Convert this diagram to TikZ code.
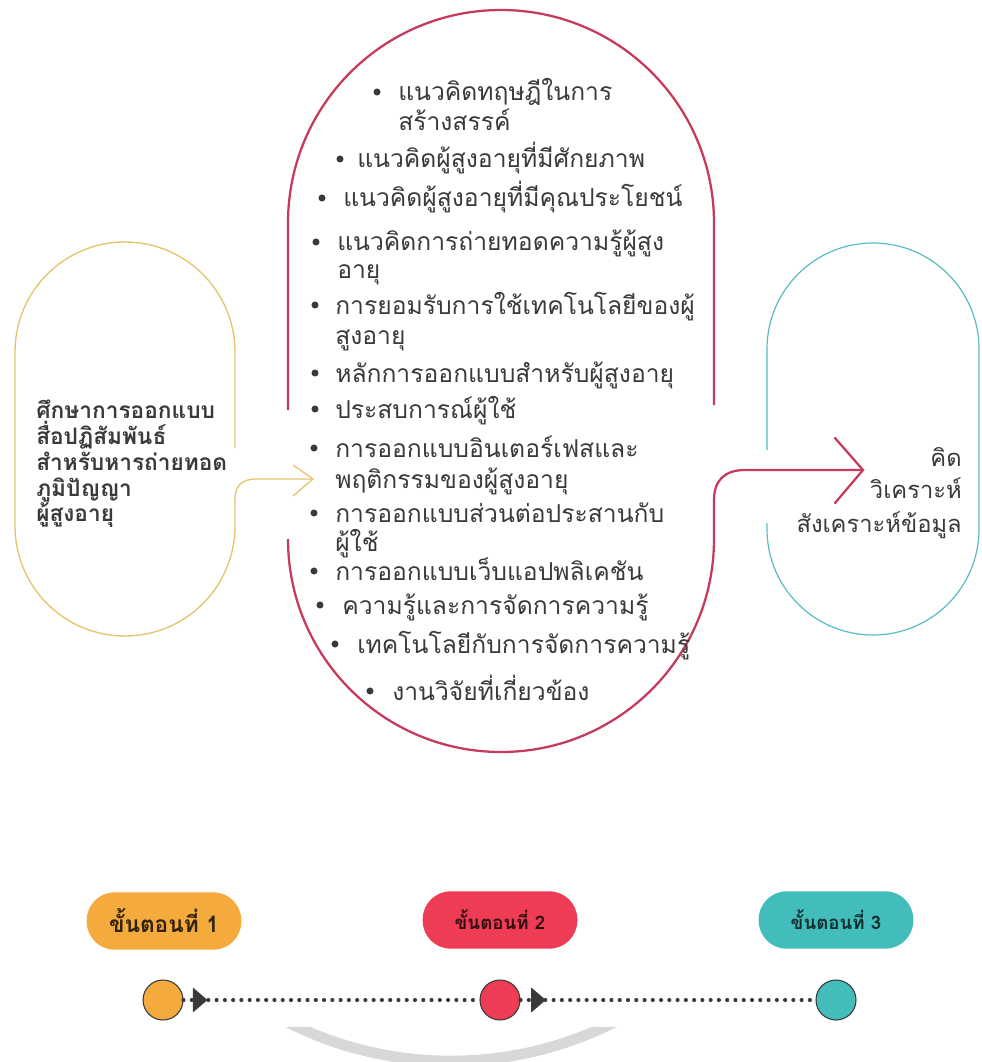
\documentclass[tikz,border=0pt]{standalone}
\usepackage{fontspec}
\newfontfamily\thai[Script=Thai]{Loma}
\usetikzlibrary{arrows.meta,decorations.markings}

\definecolor{ygold}{HTML}{E6C46C}
\definecolor{rcrim}{HTML}{C63A5B}
\definecolor{tteal}{HTML}{58BCC2}
\definecolor{pyel}{HTML}{F5AA3D}
\definecolor{pred}{HTML}{EE3C55}
\definecolor{pteal}{HTML}{43BDBC}
\definecolor{ink}{HTML}{3A3A3A}
\definecolor{wmgray}{HTML}{D8D8D8}

\begin{document}
\begin{tikzpicture}[x=0.75pt,y=-0.75pt,
  ystroke/.style={draw=ygold,line width=1pt},
  rstroke/.style={draw=rcrim,line width=1.7pt},
  tstroke/.style={draw=tteal,line width=0.9pt},
  li/.style={anchor=base west,inner sep=0pt,text=ink,font=\thai\fontsize{18.5}{22}\selectfont},
  lhead/.style={anchor=base west,inner sep=0pt,text=ink,font=\thai\bfseries\fontsize{17}{20}\selectfont},
  rhead/.style={anchor=base east,inner sep=0pt,text=ink,font=\thai\fontsize{17.8}{21}\selectfont},
  bul/.style={circle,fill=ink,inner sep=0pt,minimum size=5.3pt},
  pill/.style={rectangle,rounded corners=21pt,minimum width=116pt,minimum height=43pt,inner sep=0pt,font=\thai\bfseries\fontsize{14}{17}\selectfont},
  stepdot/.style={circle,draw=ink,line width=0.8pt,minimum size=30pt,inner sep=0pt},
  dotline/.style={draw=ink,line width=3.1pt,line cap=round,dash pattern=on 0pt off 6.2pt},
  tipmark/.style={postaction=decorate,decoration={markings,
      mark=at position #1 with {\arrow[ink]{Triangle[length=11pt,width=18pt]}}}}
]
\useasboundingbox (0,0) rectangle (981,1062);
\fill[white] (0,0) rectangle (981,1062);

% faint seal ring behind the timeline
\begin{scope}
  \clip (0,1027) rectangle (981,1062);
  \draw[wmgray,line width=8pt] (451,699) circle[radius=362];
\end{scope}

% ---- stage 1 outline and its outgoing arrow
\coordinate (yTip) at (313,479);
\draw[ystroke] (235,448) -- (235,352) arc[start angle=0,end angle=-180,radius=110]
  -- (15,526) arc[start angle=180,end angle=0,radius=110] -- (235,500)
  .. controls (235,485) and (242,479) .. (257,479) -- (yTip);
\draw[ystroke] (yTip) ++(-20,-14) -- (yTip) -- ++(-20,17);

% ---- stage 2 outline and its outgoing arrow
\coordinate (rTip) at (863,470);
\draw[rstroke] (714,405) -- (714,223) arc[start angle=0,end angle=-180,radius=213] -- (288,410);
\draw[rstroke] (288,545) -- (288,539) arc[start angle=180,end angle=0,radius=213] -- (714,500)
  .. controls (714,481) and (724,470) .. (745,470) -- (rTip);
\draw[rstroke,line cap=round] (rTip) ++(-28,-32) -- (rTip) -- ++(-28,33);

% ---- stage 3 outline
\draw[tstroke] (767,450) -- (767,349) arc[start angle=180,end angle=360,radius=106]
  -- (979,529) arc[start angle=0,end angle=180,radius=106] -- (767,523);

% ---- stage 1 text
\node[lhead] (h1) at (36,418) {ศึกษาการออกแบบ};
\node[lhead] (h2) at (36,444) {สื่อปฏิสัมพันธ์};
\node[lhead] (h3) at (36,470) {สำหรับหารถ่ายทอด};
\node[lhead] (h4) at (36,496) {ภูมิปัญญา};
\node[lhead] (h5) at (36,521) {ผู้สูงอายุ};

% ---- stage 2 topics
\node[bul] (b1) at (377,92) {};
\node[li] (t1) at (398,101) {แนวคิดทฤษฎีในการ};
\node[li] (t1b) at (398,131) {สร้างสรรค์};
\node[bul] (b2) at (340,159) {};
\node[li] (t2) at (357,168) {แนวคิดผู้สูงอายุที่มีศักยภาพ};
\node[bul] (b3) at (322,198) {};
\node[li] (t3) at (343,207) {แนวคิดผู้สูงอายุที่มีคุณประโยชน์};
\node[bul] (b4) at (316,242) {};
\node[li] (t4) at (337,251) {แนวคิดการถ่ายทอดความรู้ผู้สูง};
\node[li] (t4b) at (337,278) {อายุ};
\node[bul] (b5) at (315,305) {};
\node[li] (t5) at (335,314) {การยอมรับการใช้เทคโนโลยีของผู้};
\node[li] (t5b) at (335,344) {สูงอายุ};
\node[bul] (b6) at (315,373) {};
\node[li] (t6) at (335,382) {หลักการออกแบบสำหรับผู้สูงอายุ};
\node[bul] (b7) at (315,409) {};
\node[li] (t7) at (335,418) {ประสบการณ์ผู้ใช้};
\node[bul] (b8) at (314,448) {};
\node[li] (t8) at (335,457) {การออกแบบอินเตอร์เฟสและ};
\node[li] (t8b) at (335,488) {พฤติกรรมของผู้สูงอายุ};
\node[bul] (b9) at (314,513) {};
\node[li] (t9) at (335,522) {การออกแบบส่วนต่อประสานกับ};
\node[li] (t9b) at (335,551) {ผู้ใช้};
\node[bul] (b10) at (314,571) {};
\node[li] (t10) at (335,580) {การออกแบบเว็บแอปพลิเคชัน};
\node[bul] (b11) at (320,605) {};
\node[li] (t11) at (342,614) {ความรู้และการจัดการความรู้};
\node[bul] (b12) at (335,644) {};
\node[li] (t12) at (357,653) {เทคโนโลยีกับการจัดการความรู้};
\node[bul] (b13) at (370,691) {};
\node[li] (t13) at (392,700) {งานวิจัยที่เกี่ยวข้อง};

% ---- stage 3 text
\node[rhead] (r1) at (962,466) {คิด};
\node[rhead] (r2) at (962,498) {วิเคราะห์};
\node[rhead] (r3) at (962,532) {สังเคราะห์ข้อมูล};

% ---- timeline labels
\node[pill,fill=pyel,text=black!80!pyel,font=\thai\bfseries\fontsize{17}{20}\selectfont] (p1) at (164,921) {ขั้นตอนที่ 1};
\node[pill,fill=pred,text=black!80!pred] (p2) at (500,920) {ขั้นตอนที่ 2};
\node[pill,fill=pteal,text=black!75!pteal] (p3) at (836,920) {ขั้นตอนที่ 3};

% ---- timeline dots and links
\node[stepdot,fill=pyel] (c1) at (163,1000) {};
\node[stepdot,fill=pred] (c2) at (500,1000) {};
\node[stepdot,fill=pteal] (c3) at (836,1000) {};
\draw[dotline,tipmark=18pt] (c1) -- (c2);
\draw[dotline,tipmark=19pt] (c2) -- (c3);
\end{tikzpicture}
\end{document}
